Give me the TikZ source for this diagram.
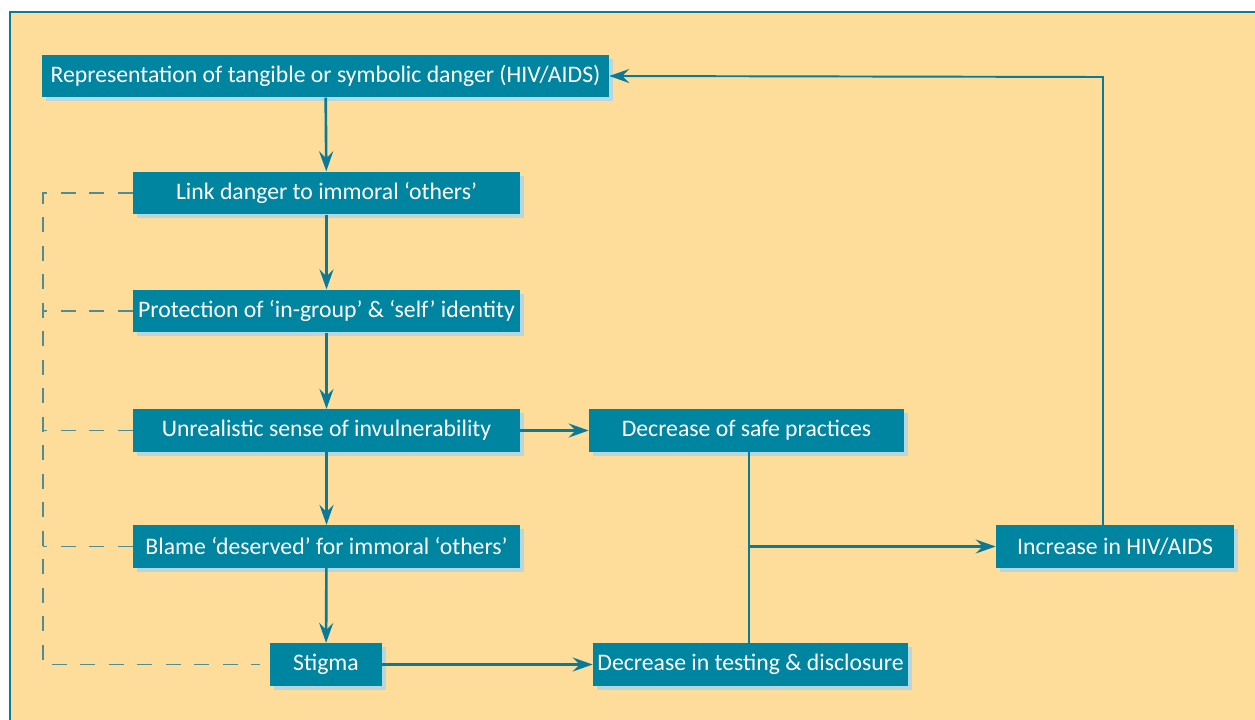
\documentclass[tikz,border=0pt]{standalone}
\usepackage{fontspec}
\setmainfont{Carlito}
\usetikzlibrary{arrows.meta,shadows}
\definecolor{bg}{HTML}{FEDD9A}
\definecolor{boxc}{HTML}{0085A1}
\definecolor{linec}{HTML}{0B7A97}
\definecolor{shad}{HTML}{B7D6DD}
\definecolor{dashc}{HTML}{4F8C93}
\tikzset{
  box/.style={fill=boxc, text=white, minimum height=0.85cm, inner sep=0pt,
    font=\fontsize{13.5}{15}\selectfont,
    drop shadow={shadow xshift=0.08cm, shadow yshift=-0.08cm, fill=shad, opacity=1}},
  arr/.style={draw=linec, line width=1.5pt, -{Stealth[length=0.4cm, width=0.28cm, inset=0.14cm]}},
  thin/.style={draw=linec, line width=0.8pt},
  fb/.style={draw=linec, line width=1.1pt, -{Stealth[length=0.4cm, width=0.28cm, inset=0.14cm]}},
  dashline/.style={draw=dashc, line width=0.8pt, dash pattern=on 0.3cm off 0.27cm}
}
\begin{document}
\begin{tikzpicture}[x=0.02cm,y=-0.02cm]
\useasboundingbox (0,0) rectangle (1255,720);
\fill[white] (0,0) rectangle (1255,720);
\filldraw[fill=bg, draw=linec, line width=0.7pt] (10,12) rectangle (1270,730);

\node[box, minimum width=11.34cm] (rep) at (325.5,76) {Representation of tangible or symbolic danger (HIV/AIDS)};
\node[box, minimum width=7.74cm] (link) at (326.5,193) {Link danger to immoral ‘others’};
\node[box, minimum width=7.74cm] (prot) at (326.5,311) {Protection of ‘in-group’ \& ‘self’ identity};
\node[box, minimum width=7.74cm] (unr) at (326.5,430.5) {Unrealistic sense of invulnerability};
\node[box, minimum width=7.74cm] (blame) at (326.5,546.5) {Blame ‘deserved’ for immoral ‘others’};
\node[box, minimum width=2.24cm] (stigma) at (326,664.5) {Stigma};
\node[box, minimum width=6.3cm] (dsp) at (746.5,430.5) {Decrease of safe practices};
\node[box, minimum width=6.3cm] (dtd) at (750.5,664.5) {Decrease in testing \& disclosure};
\node[box, minimum width=4.76cm] (inc) at (1115,546.5) {Increase in HIV/AIDS};

\draw[arr] (rep) -- (link);
\draw[arr] (link) -- (prot);
\draw[arr] (prot) -- (unr);
\draw[arr] (unr) -- (blame);
\draw[arr] (blame) -- (stigma);
\draw[arr] (unr) -- (dsp);
\draw[arr] (stigma) -- (dtd);

\coordinate (J) at (749,546.5);
\draw[thin] (dsp.south -| J) -- (dtd.north -| J);
\draw[arr] (J) -- (J -| inc.west);
\coordinate (T) at (1103,77);
\draw[fb] (inc.north -| T) -- (T) -- (rep.east);

\coordinate (L) at (43,0);
\draw[dashline] (link.west) -- (link.west -| L) -- (stigma.west -| L) -- ([xshift=-0.2cm]stigma.west);
\draw[dashline] (prot.west) -- (prot.west -| L);
\draw[dashline] (unr.west) -- (unr.west -| L);
\draw[dashline] (blame.west) -- (blame.west -| L);
\end{tikzpicture}
\end{document}
